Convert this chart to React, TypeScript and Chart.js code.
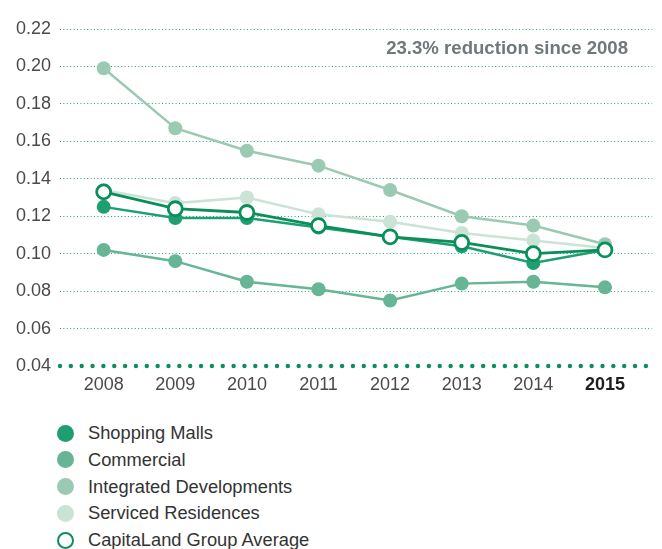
import React, { useEffect, useRef } from "react";
import { Chart, registerables } from "chart.js";

Chart.register(...registerables);

const years = [2008, 2009, 2010, 2011, 2012, 2013, 2014, 2015];
const shoppingMalls = [0.125, 0.119, 0.119, 0.114, 0.109, 0.104, 0.095, 0.102];
const commercial = [0.102, 0.096, 0.085, 0.081, 0.075, 0.084, 0.085, 0.082];
const integratedDevelopments = [0.199, 0.167, 0.155, 0.147, 0.134, 0.12, 0.115, 0.105];
const servicedResidences = [0.134, 0.127, 0.13, 0.121, 0.117, 0.111, 0.107, 0.103];
const groupAverage = [0.133, 0.124, 0.122, 0.115, 0.109, 0.106, 0.1, 0.102];
const yTicks = [0.04, 0.06, 0.08, 0.1, 0.12, 0.14, 0.16, 0.18, 0.2, 0.22];
const annotation = "23.3% reduction since 2008";

const seriesNames = [
  "Shopping Malls",
  "Commercial",
  "Integrated Developments",
  "Serviced Residences",
  "CapitaLand Group Average",
];
const colors = ["#1e9f70", "#66b594", "#9bcab2", "#cae3d5", "#0a8f5b"];

const FONT = "'Liberation Sans', Arial, sans-serif";

export default function App() {
  const ref = useRef<HTMLCanvasElement>(null);

  useEffect(() => {
    if (!ref.current) return;
    const pts = (arr: number[]) => years.map((y, i) => ({ x: y, y: arr[i] }));
    const filled = (label: string, data: number[], color: string, order: number) => ({
      label,
      data: pts(data),
      borderColor: color,
      backgroundColor: color,
      pointBackgroundColor: color,
      pointBorderColor: color,
      pointRadius: 7,
      pointBorderWidth: 0,
      borderWidth: 2.5,
      order,
    });
    const extras = {
      id: "extras",
      beforeDatasetsDraw(chart: any) {
        const { ctx, chartArea } = chart;
        const y = chart.scales.y.getPixelForValue(0.04);
        ctx.save();
        ctx.fillStyle = "#0a8f5b";
        for (let x = chartArea.left; x <= chartArea.right + 0.5; x += 10.85) {
          ctx.beginPath();
          ctx.arc(x, y, 2.2, 0, Math.PI * 2);
          ctx.fill();
        }
        ctx.restore();
      },
      afterDraw(chart: any) {
        const { ctx } = chart;
        ctx.save();
        ctx.font = `bold 18.6px ${FONT}`;
        ctx.fillStyle = "#6f787a";
        ctx.textAlign = "right";
        ctx.textBaseline = "middle";
        ctx.fillText(annotation, 628, 49);
        ctx.restore();
      },
    };
    const chart = new Chart(ref.current, {
      type: "line",
      data: {
        datasets: [
          {
            label: seriesNames[4],
            data: pts(groupAverage),
            borderColor: colors[4],
            backgroundColor: "#ffffff",
            pointBackgroundColor: "#ffffff",
            pointBorderColor: colors[4],
            pointRadius: 7,
            pointBorderWidth: 2.8,
            borderWidth: 2.8,
            order: 0,
          },
          filled(seriesNames[0], shoppingMalls, colors[0], 1),
          filled(seriesNames[1], commercial, colors[1], 2),
          filled(seriesNames[2], integratedDevelopments, colors[2], 3),
          filled(seriesNames[3], servicedResidences, colors[3], 4),
        ] as any,
      },
      options: {
        animation: false,
        responsive: false,
        layout: { padding: { top: 29, right: 7, left: 0, bottom: 0 } },
        plugins: { legend: { display: false }, tooltip: { enabled: false } },
        scales: {
          x: {
            type: "linear",
            min: 2007.39,
            max: 2015.66,
            afterBuildTicks: (s: any) => {
              s.ticks = years.map((v) => ({ value: v }));
            },
            afterFit: (s: any) => {
              s.height = 34;
            },
            grid: { display: false, drawTicks: false },
            border: { display: false },
            ticks: {
              padding: 8,
              color: (c: any) => (c.tick && c.tick.value === 2015 ? "#1e1e1e" : "#4a4a4a"),
              font: (c: any) => ({
                family: FONT,
                size: 18,
                weight: c.tick && c.tick.value === 2015 ? "bold" : "normal",
              }),
              callback: (v: any) => String(v),
            },
          },
          y: {
            type: "linear",
            min: 0.04,
            max: 0.22,
            afterBuildTicks: (s: any) => {
              s.ticks = yTicks.map((v) => ({ value: v }));
            },
            afterFit: (s: any) => {
              s.width = 60;
            },
            grid: {
              drawTicks: false,
              lineWidth: 1,
              color: (c: any) =>
                c.tick && Math.abs(c.tick.value - 0.04) < 1e-6 ? "rgba(0,0,0,0)" : "#1fa373",
            },
            border: { display: false, dash: [1, 2.4] },
            ticks: {
              padding: 9,
              color: "#4a4a4a",
              font: { family: FONT, size: 18 },
              callback: (v: any) => Number(v).toFixed(2),
            },
          },
        },
      } as any,
      plugins: [extras],
    });
    return () => chart.destroy();
  }, []);

  const legendTop = 424;
  return (
    <div
      style={{
        position: "absolute",
        left: 0,
        top: 0,
        width: 662,
        height: 549,
        background: "#ffffff",
        overflow: "hidden",
        fontFamily: FONT,
      }}
    >
      <canvas ref={ref} width={662} height={400} style={{ position: "absolute", left: 0, top: 0, width: 662, height: 400 }} />
      {seriesNames.map((name, i) => (
        <div
          key={name}
          style={{
            position: "absolute",
            left: 57,
            top: legendTop + i * 26.8,
            height: 18,
            display: "flex",
            alignItems: "center",
            whiteSpace: "nowrap",
          }}
        >
          <span
            style={{
              display: "inline-block",
              boxSizing: "border-box",
              width: 17,
              height: 17,
              borderRadius: "50%",
              background: i === 4 ? "#ffffff" : colors[i],
              border: i === 4 ? `2.8px solid ${colors[4]}` : "none",
              marginRight: 14,
            }}
          />
          <span style={{ fontSize: 18.3, color: "#333333", lineHeight: "18px" }}>{name}</span>
        </div>
      ))}
    </div>
  );
}
